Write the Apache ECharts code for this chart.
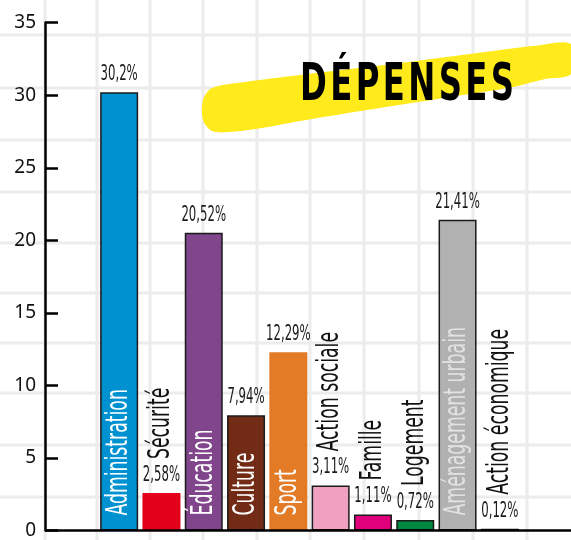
<!DOCTYPE html>
<html>
<head>
<meta charset="utf-8">
<script src="https://cdn.jsdelivr.net/npm/echarts@6/dist/echarts.min.js"></script>
<style>
  html, body { margin: 0; padding: 0; background: #ffffff; }
  #chart { width: 571px; height: 540px; }
</style>
</head>
<body>
<div id="chart"></div>
<script>
// ---- data ----
const categories = ['Administration', 'Sécurité', 'Éducation', 'Culture', 'Sport',
  'Action sociale', 'Famille', 'Logement', 'Aménagement urbain', 'Action économique'];
const values = [30.2, 2.58, 20.52, 7.94, 12.29, 3.11, 1.11, 0.72, 21.41, 0.12];
const yMin = 0, yMax = 35, yStep = 5;
const titleText = 'DÉPENSES';

// ---- styles ----
const barColors = ['#0091d1', '#e2001a', '#81458b', '#722b15', '#e27a26',
  '#f0a1c1', '#e0007b', '#00873f', '#b1b1b1', '#6f5f17'];
const barBorders = [1.5, 0, 1.5, 1.5, 0, 1.5, 1.5, 1.5, 1.5, 1.5];
const nameInside = [true, false, true, true, true, false, false, false, true, false];
const nameColors = ['#ffffff', '#111111', '#ffffff', '#ffffff', '#ffffff',
  '#111111', '#111111', '#111111', '#e2e2e2', '#111111'];

const COND = "'DejaVu Sans Condensed', 'Liberation Sans Narrow', sans-serif";

const chart = echarts.init(document.getElementById('chart'), null, { renderer: 'canvas' });

// paper grid lines (decoration)
const paper = [];
const vx = [45, 97, 150, 203, 257, 310, 364, 419, 473, 527];
const hy = [35, 88, 140, 192, 243, 293, 343, 393, 445, 497];
vx.forEach(x => paper.push({ type: 'line', z: -20, silent: true,
  shape: { x1: x, y1: 0, x2: x, y2: 540 }, style: { stroke: '#ececec', lineWidth: 3 } }));
hy.forEach(y => paper.push({ type: 'line', z: -20, silent: true,
  shape: { x1: 0, y1: y, x2: 571, y2: y }, style: { stroke: '#ececec', lineWidth: 3 } }));

const brush = {
  type: 'polygon', z: -5, silent: true,
  shape: {
    smooth: 0.3,
    points: [[203, 100], [212, 88], [245, 82], [300, 75], [400, 63], [470, 54],
      [533, 46], [571, 44], [571, 74], [545, 79], [513, 87], [450, 97],
      [367, 110], [300, 121], [262, 128], [230, 132], [212, 131], [203, 120]]
  },
  style: { fill: '#ffeb1c' }
};

// title with letter spacing: each letter placed after measuring the previous ones
const titleFont = "bold 52px 'DejaVu Sans Condensed', sans-serif";
const titleScale = 0.69;
const titleLeft = 300, titleRight = 514;
const mctx = document.createElement('canvas').getContext('2d');
mctx.font = titleFont;
const letters = titleText.split('');
const lw = letters.map(c => mctx.measureText(c).width * titleScale);
const totalW = lw.reduce((a, b) => a + b, 0);
const gap = (titleRight - titleLeft - totalW) / (letters.length - 1);
const titleEls = [];
let cx = titleLeft;
letters.forEach((c, k) => {
  titleEls.push({
    type: 'text', z: 10, silent: true, x: cx, y: 86, scaleX: titleScale,
    style: {
      text: c, x: 0, y: 0, align: 'left', verticalAlign: 'middle',
      fontSize: 52, fontWeight: 'bold', fontFamily: COND, fill: '#000000'
    }
  });
  cx += lw[k] + gap;
});

function fmt(v) { return String(v).replace('.', ',') + '%'; }

const valueData = values.map((v, i) => ({
  value: v,
  itemStyle: {
    color: barColors[i],
    borderColor: '#1b1b1b',
    borderWidth: barBorders[i]
  }
}));

function renderLabels(params, api) {
  const i = params.dataIndex;
  const v = api.value(1);
  const top = api.coord([api.value(0), v]);
  const base = api.coord([api.value(0), 0]);
  const children = [{
    type: 'text', x: top[0], y: top[1] - 7, scaleX: 0.62,
    style: {
      text: fmt(v), x: 0, y: 0, align: 'center', verticalAlign: 'bottom',
      fontSize: 21, fontFamily: COND, fill: '#1a1a1a'
    }
  }];
  const inside = nameInside[i];
  children.push({
    type: 'text',
    x: top[0],
    y: inside ? base[1] - 15 : top[1] - 34,
    rotation: Math.PI / 2,
    scaleX: 0.64,
    style: {
      text: categories[i], x: 0, y: 0, align: 'left', verticalAlign: 'middle',
      fontSize: 30, fontFamily: COND, fill: nameColors[i]
    }
  });
  return { type: 'group', children: children };
}

const option = {
  animation: false,
  backgroundColor: '#ffffff',
  grid: { left: 98, right: 50, top: 22.7, bottom: 7.3, containLabel: false },
  xAxis: {
    type: 'category',
    data: categories,
    axisLine: { show: false },
    axisTick: { show: false },
    axisLabel: { show: false },
    splitLine: { show: false }
  },
  yAxis: {
    type: 'value',
    min: yMin, max: yMax, interval: yStep,
    offset: 53,
    axisLine: { show: true, lineStyle: { color: '#000000', width: 2.5 } },
    axisTick: { show: true, inside: true, length: 13, lineStyle: { color: '#000000', width: 2.5 } },
    axisLabel: { color: '#111111', fontSize: 19, fontFamily: "'Noto Sans', sans-serif", margin: 9 },
    splitLine: { show: false }
  },
  series: [
    {
      type: 'bar',
      name: 'valeurs',
      data: valueData,
      barWidth: 38,
      z: 2
    },
    {
      type: 'custom',
      name: 'étiquettes',
      data: values.map((v, i) => [i, v]),
      renderItem: renderLabels,
      silent: true,
      z: 5
    }
  ],
  graphic: { elements: paper.concat([brush], titleEls) }
};

chart.setOption(option);

// baseline along the whole width at the value 0
const y0 = chart.convertToPixel({ yAxisIndex: 0 }, yMin);
chart.setOption({
  graphic: { elements: paper.concat([brush], titleEls, [{
    type: 'line', z: 20, silent: true,
    shape: { x1: 45, y1: y0, x2: 571, y2: y0 },
    style: { stroke: '#000000', lineWidth: 2.5 }
  }]) }
});
</script>
</body>
</html>
